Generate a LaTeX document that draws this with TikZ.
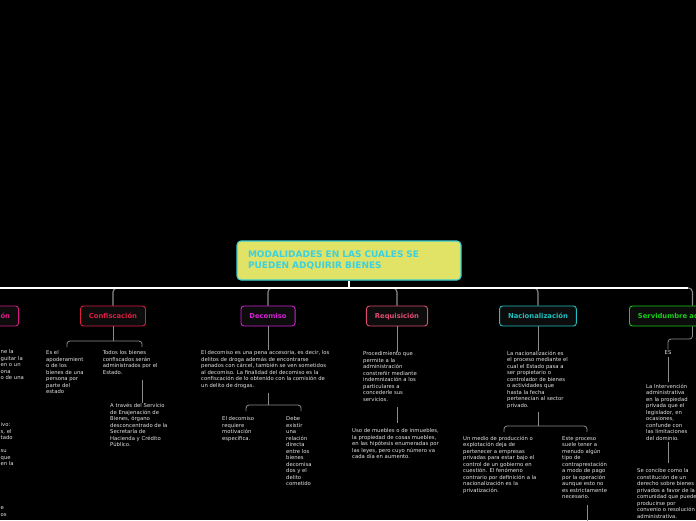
\documentclass[tikz,border=0pt]{standalone}
\usepackage{fontspec}
\setmainfont{DejaVu Sans}
\usetikzlibrary{calc}

\definecolor{tituloFondo}{HTML}{E0E366}
\definecolor{tituloBorde}{HTML}{38CCD4}
\definecolor{tituloTexto}{HTML}{3CD0E0}
\definecolor{cajaFondo}{HTML}{0C0C0C}
\definecolor{notaTexto}{HTML}{E6E6E6}
\definecolor{ramaGris}{HTML}{8C8C8C}
\definecolor{exprCol}{HTML}{D81C86}
\definecolor{confCol}{HTML}{DC1C40}
\definecolor{decoCol}{HTML}{D020D0}
\definecolor{requCol}{HTML}{E04C70}
\definecolor{naciCol}{HTML}{20C0C0}
\definecolor{servCol}{HTML}{18CC18}

\tikzset{
	caja/.style={draw=#1, text=#1, fill=cajaFondo, rounded corners=3pt, line width=0.9pt,
		minimum height=20pt, inner xsep=8.5pt, font=\fontsize{6.8}{8}\selectfont\bfseries},
	nota/.style={anchor=north west, align=left, inner sep=0pt, text=notaTexto,
		font=\fontsize{5.3}{6.5}\selectfont},
	tronco/.style={draw=white, line width=1.4pt},
	rama/.style={draw=ramaGris, line width=1.1pt, rounded corners=4pt},
	hilo/.style={draw=ramaGris, line width=0.8pt, rounded corners=3pt}
}

\begin{document}
\begin{tikzpicture}[x=1pt, y=-1pt]
	\useasboundingbox (0,0) rectangle (696,520);
	\fill[black] (0,0) rectangle (696,520);
	
	% titulo
	\node[draw=tituloBorde, fill=tituloFondo, text=tituloTexto, line width=1.1pt, rounded corners=4pt,
		minimum width=224pt, minimum height=39pt, text width=202pt, align=left,
		font=\fontsize{9}{11}\selectfont\bfseries] (titulo) at (349,260.5)
		{MODALIDADES EN LAS CUALES SE\\PUEDEN ADQUIRIR BIENES};
	
	% modalidades
	\node[caja=exprCol, anchor=east, text width=60pt, align=right] (expr) at (19,316) {ión};
	\node[caja=confCol] (conf) at (113,316) {Confiscación};
	\node[caja=decoCol] (deco) at (268,316) {Decomiso};
	\node[caja=requCol] (requ) at (397,316) {Requisición};
	\node[caja=naciCol] (naci) at (538,316) {Nacionalización};
	\node[caja=servCol, anchor=west, text width=109pt, align=left] (serv) at (629,316) {Servidumbre ad};
	
	% ramas
	\coordinate (hub) at (349,288);
	\draw[tronco] (titulo) -- (hub);
	\foreach \n in {expr,conf,deco,requ,naci,serv}
		\draw[rama] (hub) -| (\n);
	\draw[tronco] (-5,288) -- (688,288);
	
	% texto cortado a la izquierda
	\node[nota] (expr1) at (0.5,349.7) {ne la\\guitar la\\en o un\\ona\\o de una};
	\node[nota] (expr2) at (0.5,422.7) {ivo:\\s, el\\tado\\[6.5pt]su\\que\\en la};
	\node[nota] (expr3) at (0.5,506.7) {e\\os};
	
	% confiscacion
	\node[nota] (conf1) at (46,350.4) {Es el\\apoderamient\\o de los\\bienes de una\\persona por\\parte del\\estado};
	\node[nota] (conf2) at (102.7,350.4) {Todos los bienes\\confiscados serán\\administrados por el\\Estado.};
	\node[nota] (conf3) at (110,403.4) {A través del Servicio\\de Enajenación de\\Bienes, órgano\\desconcentrado de la\\Secretaría de\\Hacienda y Crédito\\Público.};
	\coordinate (cfb) at (113,341);
	\coordinate (cf1) at (67,347);
	\coordinate (cf2) at (142,347);
	\draw[hilo] (conf) -- (cfb);
	\draw[hilo] (cf1) |- (cfb) -| (cf2);
	\draw[hilo] (142,380) -- (conf3.north -| 142,0);
	
	% decomiso
	\node[nota] (deco1) at (201,350.4) {El decomiso es una pena accesoria, es decir, los\\delitos de droga además de encontrarse\\penados con cárcel, también se ven sometidos\\al decomiso. La finalidad del decomiso es la\\confiscación de lo obtenido con la comisión de\\un delito de drogas.};
	\node[nota] (deco2) at (222,416.7) {El decomiso\\requiere\\motivación\\específica.};
	\node[nota] (deco3) at (286,416.7) {Debe\\existir\\una\\relación\\directa\\entre los\\bienes\\decomisa\\dos y el\\delito\\cometido};
	\draw[hilo] (deco) -- (deco |- deco1.north);
	\coordinate (dcb) at (268,405);
	\draw[hilo] (268,393) -- (dcb);
	\draw[hilo] (246,411) |- (dcb) -| (301,411);
	
	% requisicion
	\node[nota] (requ1) at (363,351.7) {Procedimiento que\\permite a la\\administración\\constreñir mediante\\indemnización a los\\particulares a\\concederle sus\\servicios.};
	\node[nota] (requ2) at (352,428.7) {Uso de muebles o de inmuebles,\\la propiedad de cosas muebles,\\en las hipótesis enumeradas por\\las leyes, pero cuyo número va\\cada día en aumento.};
	\draw[hilo] (requ) -- (requ |- requ1.north);
	\draw[hilo] (397,407) -- (397,423);
	
	% nacionalizacion
	\node[nota] (naci1) at (507,350.7) {La nacionalización es\\el proceso mediante el\\cual el Estado pasa a\\ser propietario o\\controlador de bienes\\o actividades que\\hasta la fecha\\pertenecían al sector\\privado.};
	\node[nota] (naci2) at (463,436) {Un medio de producción o\\explotación deja de\\pertenecer a empresas\\privadas para estar bajo el\\control de un gobierno en\\cuestión. El fenómeno\\contrario por definición a la\\nacionalización es la\\privatización.};
	\node[nota] (naci3) at (562,436) {Este proceso\\suele tener a\\menudo algún\\tipo de\\contraprestación\\a modo de pago\\por la operación\\aunque esto no\\es estrictamente\\necesario.};
	\draw[hilo] (naci) -- (naci |- naci1.north);
	\coordinate (ncb) at (538,426);
	\draw[hilo] (538,412) -- (ncb);
	\draw[hilo] (504,432) |- (ncb) -| (587,432);
	\draw[hilo] (587,505) -- (587,522);
	
	% servidumbre
	\node[nota, anchor=center, inner sep=1.5pt] (es) at (668,353) {ES};
	\node[nota] (serv1) at (646,383.7) {La Intervención\\administrativa\\en la propiedad\\privada que el\\legislador, en\\ocasiones,\\confunde con\\las limitaciones\\del dominio.};
	\node[nota] (serv2) at (637,468.7) {Se concibe como la\\constitución de un\\derecho sobre bienes\\privados a favor de la\\comunidad que puede\\producirse por\\convenio o resolución\\administrativa.};
	\coordinate (svc) at (668,339);
	\draw[hilo] (serv) |- (svc) -- (es);
	\draw[hilo, shorten >=2pt] (es) -- (es |- serv1.north);
	\draw[hilo] (668,442) -- (668,463);
\end{tikzpicture}
\end{document}
